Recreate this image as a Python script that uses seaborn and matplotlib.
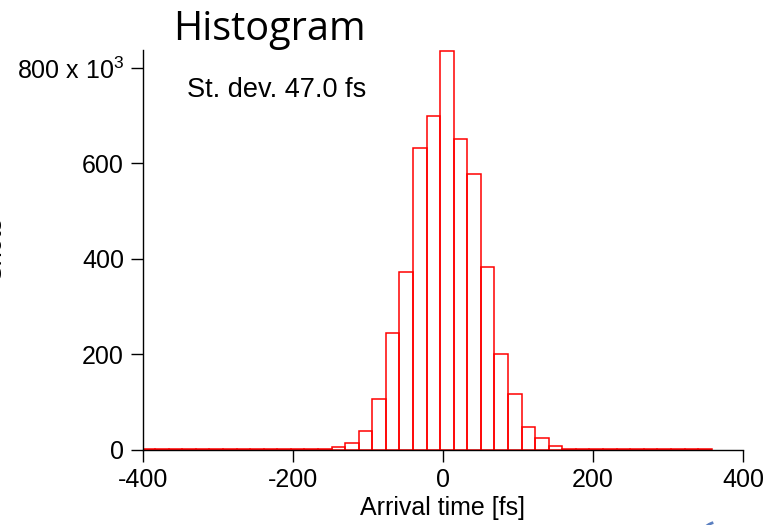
import numpy as np
import pandas as pd
import seaborn as sns
import matplotlib.pyplot as plt
from matplotlib.patches import Arc

# histogram bins (fs) and counts per bin (thousands of shots)
bin_start = -402.0
bin_width = 18.1
counts_k = [0.5, 0.5, 0.5, 0.5, 0.5, 0.5, 0.5, 0.5, 0.5, 0.5,
            0.5, 0.5, 1, 2, 6, 14, 38, 105, 244, 372,
            633, 700, 836, 652, 578, 383, 201, 116, 48, 25,
            8, 2, 1, 0.5, 0.5, 0.5, 0.5, 0.5, 0.5, 0.5,
            0.5, 0.5]
x_ticks = [-400, -200, 0, 200, 400]
y_ticks = [0, 200e3, 400e3, 600e3, 800e3]
y_ticklabels = ['0', '200', '400', '600', r'800 x 10$^{3}$']
stdev_fs = 47.0

sns.set_style('ticks')
plt.rcParams['font.family'] = ['Liberation Sans', 'DejaVu Sans']
plt.rcParams['mathtext.fontset'] = 'custom'
plt.rcParams['mathtext.rm'] = 'Liberation Sans'
plt.rcParams['mathtext.it'] = 'Liberation Sans'
plt.rcParams['text.color'] = 'black'
plt.rcParams['axes.labelcolor'] = 'black'

edges = bin_start + bin_width * np.arange(len(counts_k) + 1)
df = pd.DataFrame({'t': (edges[:-1] + edges[1:]) / 2,
                   'shots': np.array(counts_k) * 1000})

fig = plt.figure(figsize=(7.76, 5.25), dpi=100)
ax = fig.add_axes([143 / 776, 75.5 / 525, 600 / 776, 399.5 / 525])
sns.histplot(data=df, x='t', weights='shots', bins=list(edges), fill=False,
             element='bars', color='#ff0000', linewidth=1.1, ax=ax)

ax.set_xlim(-400, 400)
ax.set_ylim(0, 838e3)
ax.set_xticks(x_ticks)
ax.set_xticklabels([str(t) for t in x_ticks])
ax.set_yticks(y_ticks)
ax.set_yticklabels(y_ticklabels)
ax.tick_params(axis='both', labelsize=18, length=8.6, width=1, direction='out',
               colors='black')
ax.tick_params(axis='x', pad=4.4)
ax.tick_params(axis='y', pad=5)
for s in ['top', 'right']:
    ax.spines[s].set_visible(False)
for s in ['left', 'bottom']:
    ax.spines[s].set_linewidth(1)
    ax.spines[s].set_color('black')
ax.set_xlabel('Arrival time [fs]', fontsize=18, labelpad=3.5)
ax.set_ylabel('')

fig.text(187 / 776, 1 - 97 / 525, f'St. dev. {stdev_fs:.1f} fs', fontsize=19.5,
         va='baseline')
fig.text(173 / 776, 1 - 40 / 525, 'Histogram', family=['Open Sans', 'DejaVu Sans'],
         fontsize=28.5, ha='left', va='baseline')
# y label is cut off by the left edge, as in the original slide
fig.text(6 / 776, 1 - 248 / 525, 'Shots', rotation=90, fontsize=18,
         ha='right', va='center')

fig.patches.append(Arc((7.18, -0.15), 0.36, 0.36, theta1=105, theta2=145,
                       transform=fig.dpi_scale_trans, color='#5a7fc0', linewidth=2))

fig.savefig('out.png', dpi=100)
